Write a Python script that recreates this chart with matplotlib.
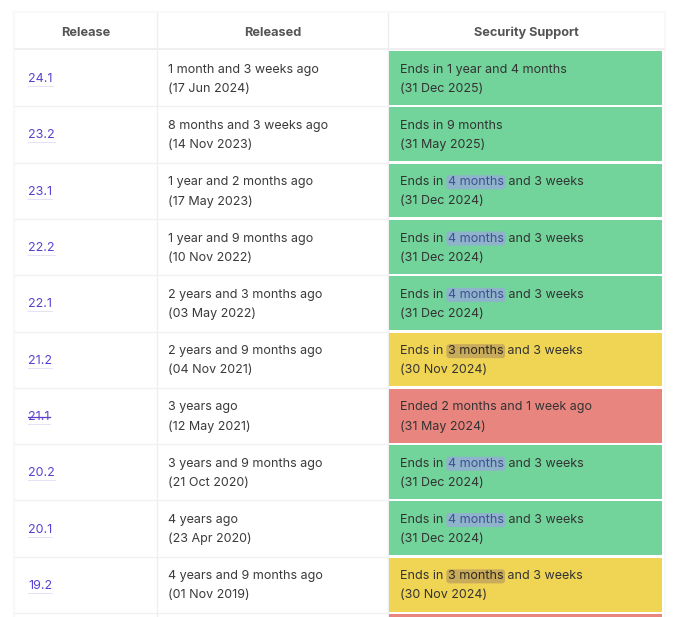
import matplotlib
matplotlib.use("Agg")
import matplotlib.pyplot as plt
from matplotlib.patches import Rectangle, FancyBboxPatch

plt.rcParams['font.family'] = ['Inter', 'DejaVu Sans']

# table content
releases = ["24.1", "23.2", "23.1", "22.2", "22.1", "21.2", "21.1", "20.2", "20.1", "19.2", ""]
released_ago = ["1 month and 3 weeks ago", "8 months and 3 weeks ago", "1 year and 2 months ago",
                "1 year and 9 months ago", "2 years and 3 months ago", "2 years and 9 months ago",
                "3 years ago", "3 years and 9 months ago", "4 years ago", "4 years and 9 months ago", ""]
released_date = ["(17 Jun 2024)", "(14 Nov 2023)", "(17 May 2023)", "(10 Nov 2022)", "(03 May 2022)",
                 "(04 Nov 2021)", "(12 May 2021)", "(21 Oct 2020)", "(23 Apr 2020)", "(01 Nov 2019)", ""]
support_pre = ["Ends in ", "Ends in ", "Ends in ", "Ends in ", "Ends in ", "Ends in ",
               "Ended 2 months and 1 week ago", "Ends in ", "Ends in ", "Ends in ", ""]
support_mark = ["", "", "4 months", "4 months", "4 months", "3 months", "", "4 months", "4 months", "3 months", ""]
support_post = ["1 year and 4 months", "9 months", " and 3 weeks", " and 3 weeks", " and 3 weeks",
                " and 3 weeks", "", " and 3 weeks", " and 3 weeks", " and 3 weeks", ""]
support_date = ["(31 Dec 2025)", "(31 May 2025)", "(31 Dec 2024)", "(31 Dec 2024)", "(31 Dec 2024)",
                "(30 Nov 2024)", "(31 May 2024)", "(31 Dec 2024)", "(31 Dec 2024)", "(30 Nov 2024)", ""]
status = ["ok", "ok", "ok", "ok", "ok", "soon", "eol", "ok", "ok", "soon", "eol"]
headers = ["Release", "Released", "Security Support"]

cell_colors = {"ok": "#72d39b", "soon": "#f0d454", "eol": "#e8857f"}
mark_colors = {"ok": "#90b3cc", "soon": "#c9ab5c"}
mark_text = {"ok": "#3f4f8f", "soon": "#2e2a1c"}
link_color = "#5a3fcf"
text_color = "#333333"

W, H = 680, 617
fig = plt.figure(figsize=(W / 100, H / 100), dpi=100)
ax = fig.add_axes([0, 0, 1, 1])
ax.set_xlim(0, W)
ax.set_ylim(H, 0)
ax.axis("off")
renderer = fig.canvas.get_renderer()

left, right, top = 15, 664, 13
col_x = [15, 157, 388, 664]
head_h = 36
row_top0 = 50
row_h = 56.3
fs = 9.0

# soft shadow + table background
for i, a in enumerate([0.012, 0.01, 0.008]):
    ax.add_patch(Rectangle((left - 1 - i, top - 1 - i), right - left + 2 + 2 * i, H, facecolor="#000000",
                           alpha=a, edgecolor="none", zorder=0))
ax.add_patch(Rectangle((left, top), right - left, H, facecolor="white", edgecolor="none", zorder=1))

# header
for j, h in enumerate(headers):
    cx = (col_x[j] + col_x[j + 1]) / 2
    ax.text(cx, top + head_h / 2 + 2, h, ha="center", va="center", fontsize=9.2, fontweight="bold",
            color="#555555", zorder=5)
ax.plot([left, right], [row_top0 - 1.5, row_top0 - 1.5], color="#ececec", lw=1.2, zorder=2)
for x in col_x[1:3]:
    ax.plot([x, x], [top, H], color="#efefef", lw=1, zorder=2)


def measure(t):
    return t.get_window_extent(renderer).width


for i in range(len(releases)):
    y0 = row_top0 + i * row_h
    ymid = y0 + row_h / 2
    l1 = ymid - 8.5
    l2 = ymid + 10.5
    # row separators in the left columns
    ax.plot([left, col_x[2]], [y0 + row_h, y0 + row_h], color="#f0f0f0", lw=1, zorder=2)
    # status cell
    ax.add_patch(Rectangle((col_x[2] + 1, y0 + 1), col_x[3] - col_x[2] - 3, row_h - 2.5,
                           facecolor=cell_colors[status[i]], edgecolor="none", zorder=2))
    if not releases[i]:
        continue
    # release link
    t = ax.text(28, ymid + 1, releases[i], ha="left", va="center", fontsize=fs, color=link_color, zorder=5)
    w = measure(t)
    ax.plot([28, 28 + w], [ymid + 8, ymid + 8], color=link_color, lw=0.6, alpha=0.18, zorder=5)
    if status[i] == "eol":
        ax.plot([28, 28 + w], [ymid + 1, ymid + 1], color=link_color, lw=0.9, zorder=6)
    # released
    ax.text(168, l1, released_ago[i], ha="left", va="center", fontsize=fs, color="#3a3a3a", zorder=5)
    ax.text(168, l2, released_date[i], ha="left", va="center", fontsize=fs, color="#3a3a3a", zorder=5)
    # support text with optional highlight
    x = 400
    t = ax.text(x, l1, support_pre[i], ha="left", va="center", fontsize=fs, color=text_color, zorder=5)
    x += measure(t)
    if support_mark[i]:
        x += 1
        t = ax.text(x, l1, support_mark[i], ha="left", va="center", fontsize=fs,
                    color=mark_text[status[i]], zorder=5)
        w = measure(t)
        ax.add_patch(FancyBboxPatch((x - 1.5, l1 - 7), w + 3, 14, boxstyle="round,pad=0,rounding_size=3",
                                    facecolor=mark_colors[status[i]], edgecolor="none", zorder=4))
        x += w + 1
    if support_post[i]:
        ax.text(x, l1, support_post[i], ha="left", va="center", fontsize=fs, color=text_color, zorder=5)
    ax.text(400, l2, support_date[i], ha="left", va="center", fontsize=fs, color=text_color, zorder=5)

fig.savefig("out.png", dpi=100)
